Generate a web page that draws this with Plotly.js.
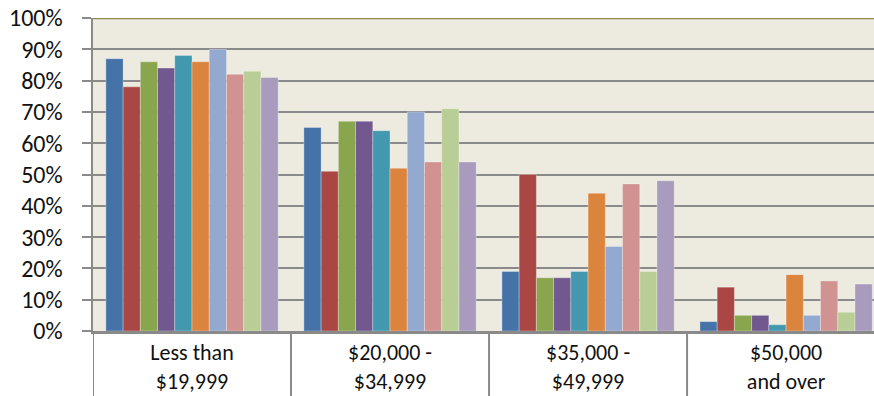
<!DOCTYPE html>
<html>
<head>
<meta charset="utf-8">
<script src="https://cdn.plot.ly/plotly-3.0.1.min.js"></script>
<style>html,body{margin:0;padding:0;background:#fff;}#chart{width:874px;height:396px;}</style>
</head>
<body>
<div id="chart"></div>
<script>
const categories = ["Less than<br>$19,999", "$20,000 -<br>$34,999", "$35,000 -<br>$49,999", "$50,000<br>and over"];
const s1 = [0.87, 0.65, 0.19, 0.03];
const s2 = [0.78, 0.51, 0.50, 0.14];
const s3 = [0.86, 0.67, 0.17, 0.05];
const s4 = [0.84, 0.67, 0.17, 0.05];
const s5 = [0.88, 0.64, 0.19, 0.02];
const s6 = [0.86, 0.52, 0.44, 0.18];
const s7 = [0.90, 0.70, 0.27, 0.05];
const s8 = [0.82, 0.54, 0.47, 0.16];
const s9 = [0.83, 0.71, 0.19, 0.06];
const s10 = [0.81, 0.54, 0.48, 0.15];
const seriesValues = [s1, s2, s3, s4, s5, s6, s7, s8, s9, s10];
const colors = ["#4572A7", "#AA4643", "#89A54E", "#71588F", "#4198AF", "#DB843D", "#93A9CF", "#D19392", "#B9CD96", "#A99BBD"];
const yTickVals = [0, 0.1, 0.2, 0.3, 0.4, 0.5, 0.6, 0.7, 0.8, 0.9, 1.0];

const FONT = "Carlito, 'Liberation Sans', Arial, sans-serif";

const traces = seriesValues.map((v, i) => ({
  type: "bar",
  x: categories,
  y: v,
  marker: {color: colors[i], line: {width: 0.6, color: "rgba(255,255,255,0.5)"}},
  hoverinfo: "none",
  showlegend: false
}));

const shapes = [];
for (let b = -0.5; b < categories.length; b += 1) {
  shapes.push({type: "line", xref: "x", yref: "paper", x0: b, x1: b, y0: 0, y1: -0.25,
    line: {color: "#8A8A8A", width: 2}, layer: "above"});
}
shapes.push({type: "line", xref: "paper", yref: "y", x0: 0, x1: 1, y0: 1, y1: 1,
  line: {color: "#8F8A4E", width: 2.5}, layer: "above"});

const layout = {
  width: 874, height: 396,
  margin: {l: 93, r: 0, t: 18, b: 65, pad: 0},
  paper_bgcolor: "#FFFFFF",
  plot_bgcolor: "#EDEBE0",
  barmode: "group",
  bargap: 0.13,
  bargroupgap: 0,
  font: {family: FONT, size: 24, color: "#111"},
  xaxis: {
    type: "category",
    range: [-0.5, 3.444],
    showgrid: false,
    ticks: "",
    showline: true, linecolor: "#8A8A8A", linewidth: 2.5,
    ticklabelstandoff: 0,
    tickfont: {family: FONT, size: 22, color: "#111"},
    fixedrange: true
  },
  yaxis: {
    range: [0, 1],
    tickvals: yTickVals,
    tickformat: ".0%",
    showgrid: true, gridcolor: "#8A8A8A", gridwidth: 2,
    showline: true, linecolor: "#8A8A8A", linewidth: 2.5,
    ticks: "outside", ticklen: 9, tickcolor: "#8A8A8A", tickwidth: 2,
    ticklabelstandoff: 14,
    zeroline: false,
    tickfont: {family: FONT, size: 24, color: "#111"},
    fixedrange: true
  },
  shapes: shapes
};

Plotly.newPlot("chart", traces, layout, {displayModeBar: false, staticPlot: true});
</script>
</body>
</html>
